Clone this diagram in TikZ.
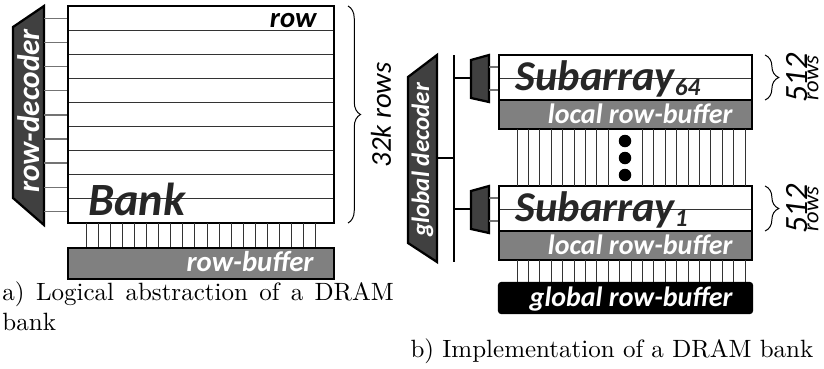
\documentclass[tikz,border=0pt]{standalone}
\usepackage{fontspec}
\newfontfamily\calfont{Carlito}
\usetikzlibrary{decorations.pathreplacing}
\definecolor{decgray}{HTML}{404040}
\definecolor{bufgray}{HTML}{808080}
\definecolor{txtgray}{HTML}{262626}

\begin{document}
\begin{tikzpicture}[x=0.4pt, y=-0.4pt,
    blbl/.style={font={\calfont\bfseries\itshape\fontsize{#1}{#1}\selectfont}, inner sep=0pt},
    ilbl/.style={font={\calfont\itshape\fontsize{#1}{#1}\selectfont}, inner sep=0pt},
    captxt/.style={font=\normalsize, inner sep=0pt},
    wire/.style={black!55, line width=0.5pt},
    gridline/.style={black!80, line width=0.4pt},
    blk/.style={draw=black, line width=0.9pt},
    bus/.style={black, line width=0.9pt}]
    \useasboundingbox (0,0) rectangle (824,368);

    % a) logical bank
    \filldraw[blk, fill=decgray] (13,27) -- (44,6) -- (44,225) -- (13,198) -- cycle;	% row-decoder
    \node[blbl=12.5, white, rotate=90] (rowdec) at (28.5,111) {row-decoder};
    \foreach \r in {0,...,8}
        \draw[wire] (44,{18.5+24.1*\r}) -- (68,{18.5+24.1*\r});
    \foreach \r in {1,...,8}
        \draw[gridline] (68,{6+24.1*\r}) -- (334,{6+24.1*\r});
    \draw[blk] (68,6) rectangle (334,223);		% bank
    \node[blbl=11.5, anchor=base east] (row) at (317,27) {row};
    \node[blbl=18.5, txtgray, anchor=base west] (bank) at (88,215) {Bank};

    \foreach \i in {0,...,19}
        \draw[gridline] ({86+12.1*\i},223) -- ({86+12.1*\i},248);
    \filldraw[blk, fill=bufgray] (68,248) rectangle (334,279);		% row-buffer
    \node[blbl=11.5, white, anchor=base east] (rowbuf) at (314,271) {row-buffer};

    \draw[decorate, decoration={brace, amplitude=5pt}] (348,6) -- (348,223);
    \node[ilbl=11.5, rotate=90] (nrows) at (381,115) {32k rows};

    \node[captxt, anchor=base west, text width=156.5pt, align=justify] (capa) at (2,300)
        {a) Logical abstraction of a DRAM bank};

    % b) implementation
    \filldraw[blk, fill=decgray] (408,77) -- (437,55) -- (437,262) -- (408,243) -- cycle;	% global decoder
    \node[blbl=10, white, rotate=90] (gdec) at (422.5,160) {global decoder};
    \draw[bus] (454,55) -- (454,262);
    \draw[bus] (437,158) -- (454,158);

    \foreach \t/\n in {55/64, 186/1} {
        \draw[bus] (454,\t+23) -- (471,\t+23);
        \filldraw[blk, fill=decgray] (471,\t+5) -- (489,\t) -- (489,\t+47) -- (471,\t+43) -- cycle;
        \draw[wire] (489,\t+12) -- (499,\t+12);
        \draw[wire] (489,\t+35) -- (499,\t+35);
        \draw[gridline] (499,\t+23) -- (752,\t+23);
        \draw[blk] (499,\t) rectangle (752,\t+45);				% subarray
        \filldraw[blk, fill=bufgray] (499,\t+45) rectangle (752,\t+74);	% local row-buffer
        \node[blbl=17, txtgray, anchor=base west] (sub\n) at (515,\t+35)
            {Subarray\raisebox{-2pt}{\fontsize{10}{10}\selectfont\n}};
        \node[blbl=11.2, white, anchor=base east] (lrb\n) at (733,\t+68) {local row-buffer};
        \draw[decorate, decoration={brace, amplitude=5.5pt}] (765,\t) -- (765,\t+45);
        \node[ilbl=13, rotate=90] (num\n) at (797,\t+23) {512};
        \node[ilbl=9, rotate=90] (rows\n) at (813,\t+23) {rows};
    }

    \foreach \i in {0,...,8,11,12,...,20}
        \draw[gridline] ({517+11.4*\i},129) -- ({517+11.4*\i},186);
    \foreach \y in {141,158,175}
        \fill (625,\y) circle (2.5pt);
    \foreach \i in {0,...,20}
        \draw[gridline] ({517+11.4*\i},260) -- ({517+11.4*\i},283);

    \filldraw[blk, fill=black, rounded corners=1pt] (499,283) rectangle (752,313);	% global row-buffer
    \node[blbl=11.2, white, anchor=base east] (grb) at (733,306) {global row-buffer};

    \node[captxt, anchor=base west] (capb) at (410,357) {b) Implementation of a DRAM bank};
\end{tikzpicture}
\end{document}
